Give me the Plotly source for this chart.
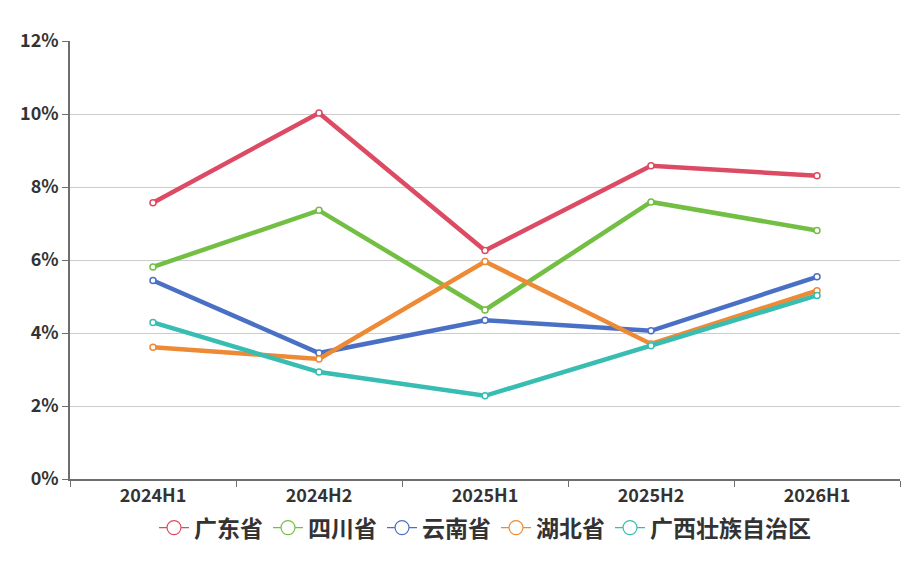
import plotly.graph_objects as go

periods = ['2024H1', '2024H2', '2025H1', '2025H2', '2026H1']
guangdong = [7.57, 10.03, 6.26, 8.58, 8.31]
sichuan = [5.81, 7.36, 4.63, 7.59, 6.81]
yunnan = [5.44, 3.45, 4.35, 4.06, 5.54]
hubei = [3.61, 3.29, 5.96, 3.70, 5.16]
guangxi = [4.29, 2.93, 2.28, 3.65, 5.03]

names = ['广东省', '四川省', '云南省', '湖北省', '广西壮族自治区']
series = [guangdong, sichuan, yunnan, hubei, guangxi]
colors = ['#dc4b63', '#72bf44', '#4a70c6', '#ee8a35', '#37bdb1']

fig = go.Figure()
for name, vals, c in zip(names, series, colors):
    fig.add_trace(go.Scatter(
        x=periods, y=[v / 100 for v in vals], name=name, legendgroup=name,
        mode='lines+markers', showlegend=False,
        line=dict(color=c, width=4.5),
        marker=dict(size=6, color='white', line=dict(color=c, width=1.5)),
        hovertemplate='%{x}<br>' + name + ': %{y:.2%}<extra></extra>'))
    # legend-only entry with the bigger open circle icon
    fig.add_trace(go.Scatter(
        x=[None], y=[None], name=name, legendgroup=name,
        mode='lines+markers', hoverinfo='skip',
        line=dict(color=c, width=1.2),
        marker=dict(size=14, color='white', line=dict(color=c, width=1.2))))

# page body adds ~8px offset, margins allow for it
fig.update_layout(
    width=921, height=564,
    margin=dict(l=62, r=29, t=33, b=93, autoexpand=False),
    plot_bgcolor='white', paper_bgcolor='white',
    font=dict(family='Noto Sans CJK SC', color='#333333'),
    legend=dict(orientation='h', x=0.5, xanchor='center', y=-0.062, yanchor='top',
                font=dict(size=23, color='#333333', weight='bold'),
                itemwidth=30, tracegroupgap=0),
)
fig.update_xaxes(
    type='category', range=[-0.5, 4.5], automargin=False,
    showline=True, linecolor='#6e6e6e', linewidth=1.5,
    ticks='outside', tickson='boundaries', ticklen=6, tickcolor='#6e6e6e',
    tickfont=dict(size=18, color='#333333', weight='bold'),
    showgrid=False)
fig.update_yaxes(
    range=[0, 0.12], dtick=0.02, tickformat='.0%', automargin=False,
    showline=True, linecolor='#6e6e6e', linewidth=1.5,
    ticks='outside', ticklen=6, tickcolor='#6e6e6e',
    tickfont=dict(size=18, color='#333333', weight='bold'),
    gridcolor='#cccccc', gridwidth=1, zeroline=False)

fig.write_html('out.html')
